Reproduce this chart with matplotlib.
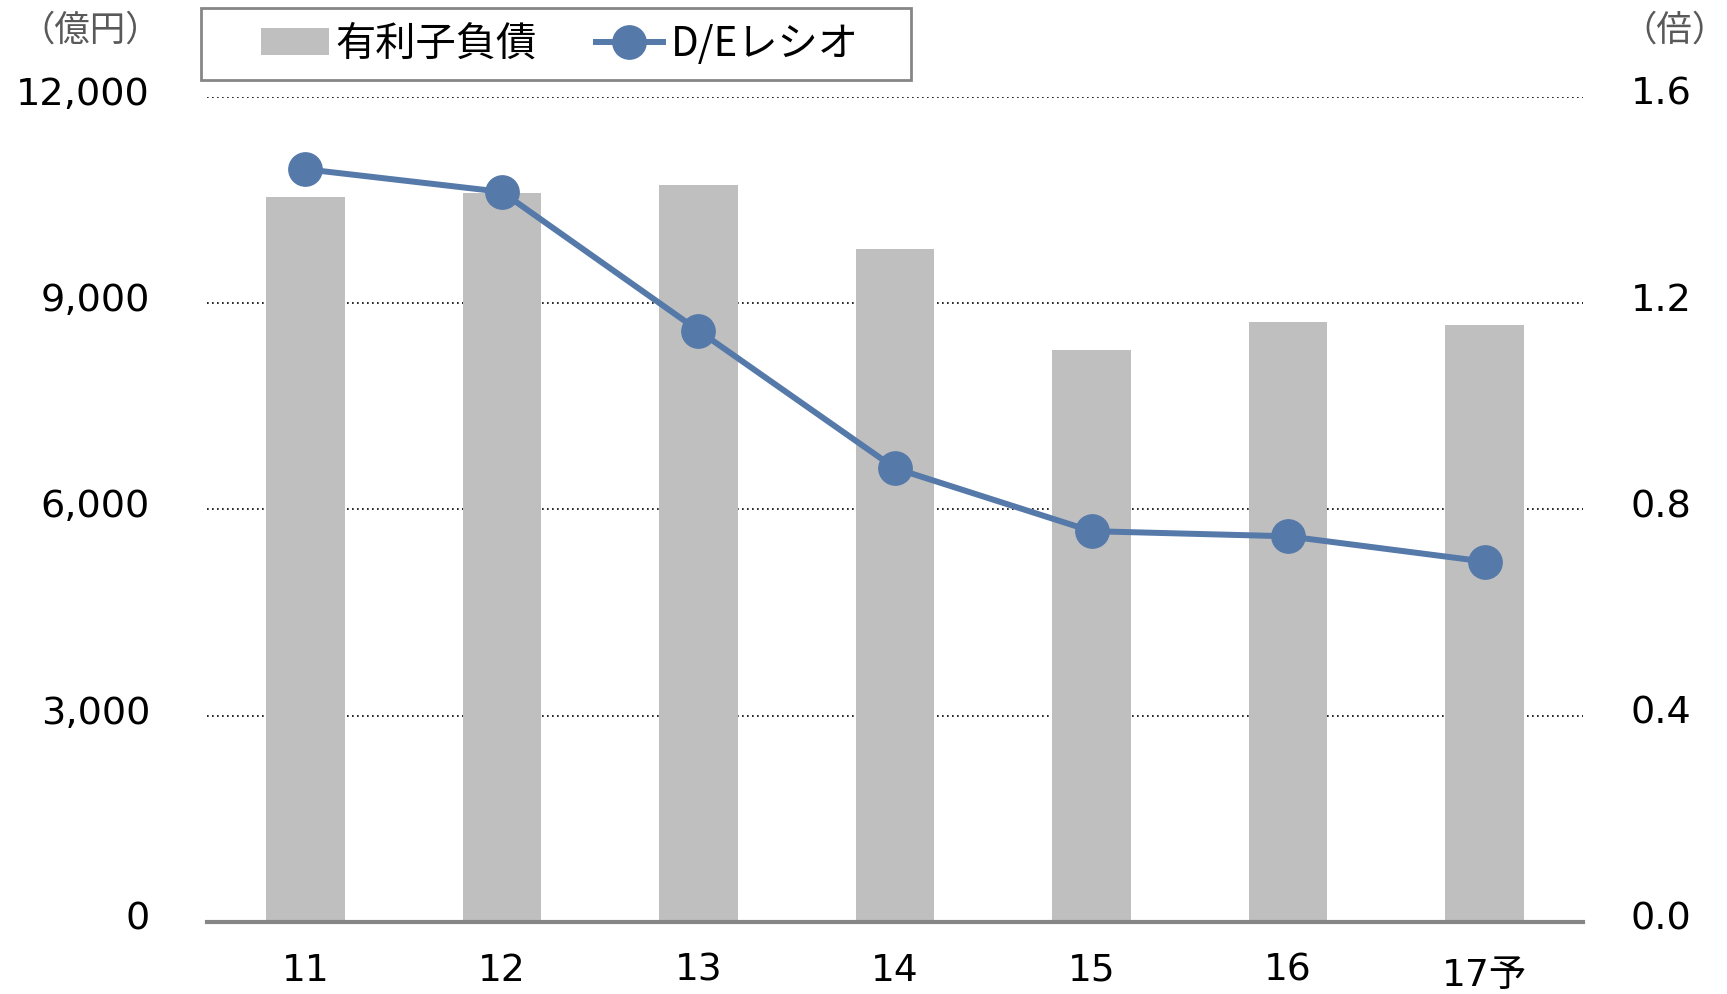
import matplotlib
matplotlib.use("Agg")
import matplotlib.pyplot as plt
from matplotlib.ticker import FuncFormatter
from matplotlib.transforms import ScaledTranslation
from matplotlib.patches import Rectangle

plt.rcParams['font.family'] = ['DejaVu Sans', 'Noto Sans CJK JP']

categories = ["11", "12", "13", "14", "15", "16", "17予"]
debt = [10540, 10610, 10720, 9790, 8320, 8730, 8690]
de_ratio = [1.46, 1.416, 1.147, 0.880, 0.758, 0.748, 0.699]
left_ticks = [0, 3000, 6000, 9000, 12000]
right_ticks = [0.0, 0.4, 0.8, 1.2, 1.6]

W, H = 1727, 994
fig = plt.figure(figsize=(W / 100, H / 100), dpi=100)
ax = fig.add_axes([207 / W, 1 - 922 / H, (1583 - 207) / W, (922 - 97) / H])
x = list(range(len(categories)))
bars = ax.bar(x, debt, width=0.4, color='#bfbfbf', zorder=2)
ax.set_xlim(-0.5, len(categories) - 0.5)
ax.set_ylim(0, 12000)
ax.set_yticks(left_ticks)
ax.yaxis.set_major_formatter(FuncFormatter(lambda v, p: f"{int(v):,}"))
ax.grid(axis='y', linestyle=(0, (1, 2)), color='black', linewidth=1.2, zorder=0)
for s in ['top', 'right', 'left']:
    ax.spines[s].set_visible(False)
ax.spines['bottom'].set_color('#868686')
ax.spines['bottom'].set_linewidth(3)
ax.spines['bottom'].set_zorder(3)
ax.set_xticks(x)
ax.set_xticklabels(categories)
ax.tick_params(axis='x', length=0, pad=22, labelsize=27)
ax.tick_params(axis='y', length=0, pad=41, labelsize=27.5)

ax2 = ax.twinx()
line, = ax2.plot(x, de_ratio, color='#5579a9', linewidth=4.3, marker='o',
                 markersize=24, zorder=4)
ax2.set_ylim(0, 1.6)
ax2.set_yticks(right_ticks)
ax2.yaxis.set_major_formatter(FuncFormatter(lambda v, p: f"{v:.1f}"))
for s in ['top', 'right', 'left', 'bottom']:
    ax2.spines[s].set_visible(False)
ax2.tick_params(axis='y', length=0, pad=34.5, labelsize=27.5)

# small offsets of tick labels as in the reference
up = ScaledTranslation(0, 6 / 100, fig.dpi_scale_trans)
for t in ax.yaxis.get_major_ticks():
    t.label1.set_transform(t.label1.get_transform() + up)
for t in ax2.yaxis.get_major_ticks():
    t.label2.set_transform(t.label2.get_transform() + up)
down = ScaledTranslation(0, -5 / 100, fig.dpi_scale_trans)
last = ax.xaxis.get_major_ticks()[-1]
last.label1.set_transform(last.label1.get_transform() + down)

unit_kw = dict(va='center', fontsize=25.5, color='#595959',
               family=['Noto Sans CJK JP', 'DejaVu Sans'])
fig.text(90 / W, 1 - 31 / H, '（億円）', ha='center', **unit_kw)
fig.text(1.0, 1 - 31 / H, '（倍）', ha='right', **unit_kw)

# legend (frame drawn separately)
fig.add_artist(Rectangle((201 / W, 1 - 80 / H), (911 - 201) / W, 72 / H,
                         transform=fig.transFigure, facecolor='none',
                         edgecolor='#868686', linewidth=2))
leg = fig.legend([bars, line], ['有利子負債', 'D/Eレシオ'], loc='center left',
                 bbox_to_anchor=(261 / W, 1 - 44 / H), ncol=2,
                 frameon=False, handlelength=1.68, handleheight=0.66,
                 columnspacing=1.45, borderpad=0, borderaxespad=0,
                 handletextpad=0.18,
                 prop={'family': ['Noto Sans CJK JP', 'DejaVu Sans'], 'size': 29})

fig.savefig('out.png', dpi=100)
